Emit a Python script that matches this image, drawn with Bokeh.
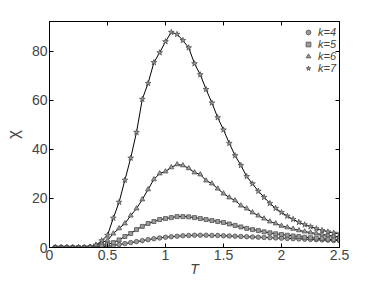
from bokeh.plotting import figure
from bokeh.models import LinearAxis, Range1d, Legend, LegendItem, FixedTicker
from bokeh.embed import file_html
from bokeh.resources import INLINE

T = [round(0.05 * i, 2) for i in range(1, 51)]

chi_k4 = [0, 0, 0, 0, 0, 0, 0.05, 0.15, 0.3, 0.5,
          0.8, 1.2, 1.6, 2.0, 2.4, 2.8, 3.2, 3.6, 3.9, 4.2,
          4.4, 4.6, 4.8, 4.9, 5.0, 5.0, 5.0, 4.9, 4.9, 4.8,
          4.7, 4.6, 4.5, 4.4, 4.3, 4.2, 4.1, 4.0, 3.9, 3.8,
          3.7, 3.6, 3.5, 3.4, 3.3, 3.2, 3.1, 3.0, 2.9, 2.8]
chi_k5 = [0, 0, 0, 0, 0, 0, 0.1, 0.4, 0.8, 1.3,
          2.0, 3.1, 4.5, 5.7, 7.3, 8.6, 9.8, 10.6, 11.4, 11.8,
          12.2, 12.6, 12.6, 12.5, 12.2, 11.8, 11.4, 11.0, 10.6, 10.2,
          9.6, 9.0, 8.4, 7.8, 7.3, 6.9, 6.4, 6.0, 5.6, 5.3,
          5.0, 4.7, 4.5, 4.2, 4.0, 3.8, 3.6, 3.4, 3.2, 3.1]
chi_k6 = [0, 0, 0, 0, 0, 0, 0.2, 0.8, 2.0, 2.9,
          5.7, 7.8, 9.8, 13.0, 15.9, 19.6, 23.7, 27.8, 30.2, 31.0,
          32.7, 33.9, 33.5, 32.3, 30.6, 29.8, 27.3, 26.1, 24.0, 22.0,
          20.4, 19.2, 17.1, 15.9, 14.3, 13.0, 11.8, 10.6, 9.8, 8.8,
          8.2, 7.6, 7.0, 6.5, 6.1, 5.7, 5.3, 5.0, 4.6, 4.3]
chi_k7 = [0, 0, 0, 0, 0, 0, 0.2, 1.0, 2.8, 5.0,
          12.0, 18.5, 27.5, 36.5, 47.0, 60.5, 67.0, 75.5, 79.5, 84.0,
          87.8, 87.0, 84.5, 81.5, 75.0, 70.5, 64.5, 59.0, 53.0, 48.0,
          42.5, 37.5, 33.5, 29.0, 26.0, 23.0, 20.5, 18.0, 16.0, 14.3,
          12.8, 11.5, 10.3, 9.3, 8.5, 7.7, 7.0, 6.4, 5.9, 5.6]

x_ticks = [0, 0.5, 1, 1.5, 2, 2.5]
y_ticks = [0, 20, 40, 60, 80]
series_labels = ["k=4", "k=5", "k=6", "k=7"]

FONT = "Liberation Sans"

p = figure(frame_width=290, frame_height=226, output_backend="svg", toolbar_location=None,
           x_range=Range1d(0, 2.5), y_range=Range1d(0, 92.2),
           min_border_left=40, min_border_right=20, min_border_top=21, min_border_bottom=18)
p.xgrid.visible = False
p.ygrid.visible = False
p.outline_line_color = "black"
p.background_fill_color = "white"

for ax, ticks in ((p.xaxis[0], x_ticks), (p.yaxis[0], y_ticks)):
    ax.ticker = FixedTicker(ticks=ticks)
    ax.major_tick_in = 4
    ax.major_tick_out = 0
    ax.minor_tick_line_color = None
    ax.major_label_text_font = FONT
    ax.major_label_text_font_size = "14px"
    ax.axis_label_text_font = FONT
    ax.axis_line_color = "black"
    ax.major_label_standoff = 2

p.xaxis.axis_label = "T"
p.xaxis.axis_label_text_font_style = "italic"
p.xaxis.axis_label_text_font_size = "14px"
p.xaxis.axis_label_standoff = -2
p.yaxis.axis_label = "χ"
p.yaxis.axis_label_text_font_style = "normal"
p.yaxis.axis_label_text_font_size = "17px"
p.yaxis.axis_label_standoff = 6

top = LinearAxis(ticker=FixedTicker(ticks=x_ticks), major_tick_in=4, major_tick_out=0,
                 minor_tick_line_color=None, major_label_text_font_size="0px",
                 major_label_text_color=None, major_label_standoff=0)
right = LinearAxis(ticker=FixedTicker(ticks=y_ticks), major_tick_in=4, major_tick_out=0,
                   minor_tick_line_color=None, major_label_text_font_size="0px",
                   major_label_text_color=None, major_label_standoff=0)
p.add_layout(top, "above")
p.add_layout(right, "right")

data = [chi_k4, chi_k5, chi_k6, chi_k7]
markers = ["circle", "square", "triangle", "star"]
sizes = [4.5, 4, 5, 6]

for ys in data:
    p.line(T, ys, line_color="black", line_width=1)

items = []
for ys, m, s, lab in zip(data, markers, sizes, series_labels):
    r = p.scatter(T, ys, marker=m, size=s, fill_color="#9a9a9a", line_color="#444444", line_width=0.7)
    items.append(LegendItem(label=lab, renderers=[r]))

legend = Legend(items=items, location=(253, 173), border_line_color=None,
                background_fill_alpha=0, label_text_font=FONT, label_text_font_size="11px",
                label_text_font_style="italic", label_height=12, glyph_height=12, glyph_width=12,
                spacing=0, padding=1, margin=0, label_standoff=4)
p.add_layout(legend)

open("out.html", "w").write(file_html(p, INLINE))
